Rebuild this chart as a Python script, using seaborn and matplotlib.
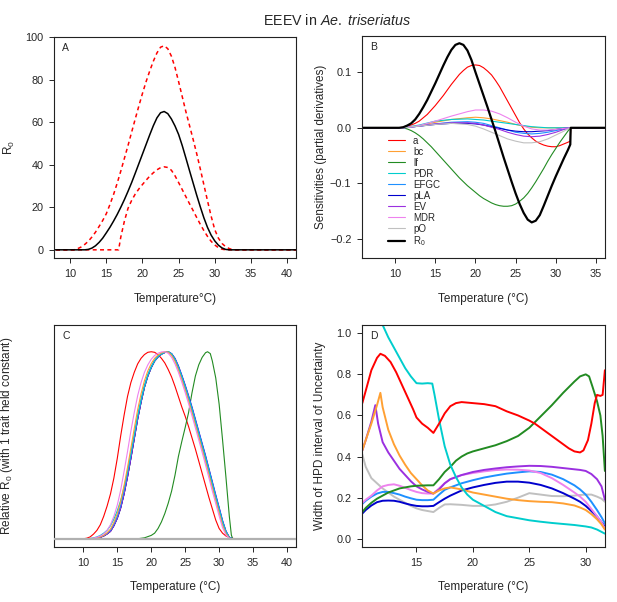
import numpy as np
import pandas as pd
import seaborn as sns
import matplotlib
matplotlib.use("Agg")
import matplotlib.pyplot as plt

# ---------------- panel A: R0 with 95% bounds ----------------
tA_mean = [5, 12, 12.5, 13, 13.5, 14, 14.5, 15, 15.5, 16, 16.5, 17, 17.5, 18, 18.5, 19, 19.5, 20, 20.5, 21, 21.5, 22, 22.5,
           23, 23.5, 24, 24.5, 25, 25.5, 26, 26.5, 27, 27.5, 28, 28.5, 29, 29.5, 30, 30.5, 31, 31.5, 32, 45]
r0_mean = [0, 0, 0.2, 0.8, 1.9, 3.5, 5.5, 8, 10.6, 13.5, 16.6, 20, 23.6, 27.5, 31.6, 36, 40.5, 45, 49.5, 54, 58.3, 62, 64.4,
           65, 64, 61.5, 58.2, 54.2, 49, 43.2, 37.3, 31.5, 25.7, 20.2, 15, 10.5, 6.9, 4.2, 2.2, 0.9, 0.2, 0, 0]
tA_upper = [5, 10.5, 11, 11.5, 12, 12.5, 13, 13.5, 14, 14.5, 15, 15.5, 16, 16.5, 17, 17.5, 18, 18.5, 19, 19.5, 20, 20.5, 21,
            21.5, 22, 22.5, 23, 23.5, 24, 24.5, 25, 25.5, 26, 26.5, 27, 27.5, 28, 28.5, 29, 29.5, 30, 30.5, 31, 31.5, 32, 32.5, 45]
r0_upper = [0, 0, 0.5, 1.3, 2.5, 4, 6, 8.3, 11, 13.8, 17, 21.3, 26, 31.3, 37, 43, 49, 55.3, 61.5, 67.6, 73.5, 79, 84,
            88.6, 92.5, 95.2, 95.9, 94.5, 91, 85.7, 79, 72, 65, 58.5, 52, 45.2, 38, 30.5, 23, 15.8, 9.5, 5.5, 3, 1.5, 0.6, 0, 0]
tA_lower = [5, 16.7, 17, 17.5, 18, 18.5, 19, 19.5, 20, 20.5, 21, 21.5, 22, 22.5, 23, 23.5, 24, 24.5, 25, 25.5, 26, 26.5, 27,
            27.5, 28, 28.5, 29, 29.5, 30, 30.5, 31, 31.5, 45]
r0_lower = [0, 0, 6, 13.5, 19.5, 23.2, 26.2, 28.6, 30.7, 32.7, 34.6, 36.2, 37.6, 38.6, 39, 38.7, 37.4, 34.8, 31.6, 28.3, 25,
            21.7, 18.5, 15.2, 12, 9, 6.3, 4, 2.3, 1, 0.3, 0, 0]

# ---------------- panel B: sensitivities ----------------
traits = ["a", "bc", "lf", "PDR", "EFGC", "pLA", "EV", "MDR", "pO", "R0"]
trait_colors = ["#FF0000", "#FFA033", "#228B22", "#00CDCD", "#1E90FF", "#0000CD",
                "#9B30E0", "#EE82EE", "#C0C0C0", "#000000"]
tB_small = [5, 11, 13, 15, 17, 19, 20, 21, 22, 23, 24, 25, 26, 27, 28, 29, 30, 31, 31.8, 40]
sens_bc = [0, 0, 0.004, 0.01, 0.015, 0.018, 0.019, 0.018, 0.016, 0.013, 0.01, 0.006, 0.003, 0.001, 0, 0, 0, 0, 0, 0]
sens_pdr = [0, 0, 0.005, 0.012, 0.015, 0.016, 0.015, 0.014, 0.012, 0.01, 0.008, 0.006, 0.004, 0.002, 0.001, 0, 0, 0, 0, 0]
sens_pla = [0, 0, 0.003, 0.006, 0.008, 0.008, 0.007, 0.005, 0.002, -0.001, -0.004, -0.006, -0.007, -0.007, -0.006, -0.005, -0.003, -0.001, 0, 0]
sens_efgc = [0, 0, 0.003, 0.007, 0.01, 0.011, 0.01, 0.008, 0.004, 0.0, -0.004, -0.008, -0.01, -0.011, -0.01, -0.008, -0.005, -0.002, 0, 0]
sens_ev = [0, 0, 0.003, 0.007, 0.009, 0.009, 0.008, 0.005, 0.001, -0.003, -0.008, -0.012, -0.015, -0.016, -0.015, -0.012, -0.008, -0.003, 0, 0]
sens_mdr = [0, 0, 0.004, 0.012, 0.021, 0.029, 0.032, 0.032, 0.03, 0.025, 0.018, 0.01, 0.003, -0.002, -0.004, -0.004, -0.003, -0.001, 0, 0]
sens_po = [0, 0, 0.003, 0.006, 0.008, 0.006, 0.003, -0.002, -0.008, -0.014, -0.02, -0.024, -0.027, -0.027, -0.025, -0.02, -0.013, -0.006, 0, 0]
tB = [5, 10.5, 11, 11.5, 12, 12.5, 13, 13.5, 14, 14.5, 15, 15.5, 16, 16.5, 17, 17.5, 18, 18.5, 19, 19.5, 20, 20.5, 21, 21.5,
      22, 22.5, 23, 23.5, 24, 24.5, 25, 25.5, 26, 26.5, 27, 27.5, 28, 28.5, 29, 29.5, 30, 30.5, 31, 31.5, 31.8, 31.85, 40]
sens_a = [0, 0, 0.001, 0.003, 0.005, 0.008, 0.012, 0.018, 0.024, 0.032, 0.04, 0.049, 0.058, 0.068, 0.078, 0.087, 0.096, 0.103,
          0.109, 0.112, 0.113, 0.112, 0.108, 0.102, 0.095, 0.085, 0.074, 0.061, 0.048, 0.035, 0.022, 0.009, -0.002, -0.011,
          -0.018, -0.024, -0.028, -0.031, -0.033, -0.034, -0.034, -0.032, -0.029, -0.026, -0.024, 0, 0]
sens_lf = [0, 0, 0, -0.002, -0.005, -0.009, -0.014, -0.02, -0.027, -0.034, -0.042, -0.05, -0.058, -0.066, -0.074, -0.082, -0.09,
           -0.097, -0.104, -0.11, -0.116, -0.122, -0.127, -0.131, -0.135, -0.138, -0.14, -0.141, -0.141, -0.14, -0.137, -0.132,
           -0.126, -0.118, -0.108, -0.097, -0.085, -0.073, -0.06, -0.048, -0.037, -0.026, -0.016, -0.006, 0, 0, 0]
sens_r0 = [0, 0, 0.001, 0.004, 0.008, 0.015, 0.025, 0.037, 0.05, 0.065, 0.08, 0.096, 0.112, 0.127, 0.14, 0.149, 0.152, 0.149,
           0.139, 0.122, 0.1, 0.079, 0.058, 0.037, 0.015, -0.007, -0.03, -0.053, -0.075, -0.097, -0.118, -0.137, -0.153, -0.165,
           -0.17, -0.167, -0.157, -0.14, -0.122, -0.104, -0.087, -0.071, -0.055, -0.04, -0.03, 0, 0]

# ---------------- panel C: relative R0 with one trait held constant ----------------
tC = [11, 11.5, 12, 12.5, 13, 13.5, 14, 14.5, 15, 15.5, 16, 16.5, 17, 17.5, 18, 18.5, 19, 19.5, 20, 20.5, 21, 21.5,
      22, 22.5, 23, 23.5, 24, 24.5, 25, 25.5, 26, 26.5, 27, 27.5, 28, 28.5, 29, 29.5, 30, 30.5, 31, 31.5, 32]
rel_r0 = [0, 0.001, 0.004, 0.008, 0.015, 0.026, 0.04, 0.07, 0.11, 0.165, 0.24, 0.33, 0.43, 0.535, 0.64, 0.73, 0.81, 0.87,
          0.915, 0.95, 0.972, 0.987, 0.996, 1.0, 0.988, 0.958, 0.915, 0.865, 0.81, 0.752, 0.69, 0.625, 0.56, 0.495, 0.43,
          0.36, 0.29, 0.22, 0.155, 0.088, 0.036, 0.006, 0]
rel_pla = [0, 0.001, 0.004, 0.008, 0.015, 0.026, 0.04, 0.07, 0.11, 0.165, 0.24, 0.33, 0.43, 0.535, 0.64, 0.73, 0.81, 0.87,
           0.915, 0.95, 0.972, 0.987, 0.996, 1.0, 0.99, 0.965, 0.925, 0.875, 0.822, 0.765, 0.705, 0.64, 0.575, 0.51, 0.445,
           0.375, 0.305, 0.235, 0.168, 0.098, 0.042, 0.008, 0]
rel_ev = [0, 0.001, 0.004, 0.008, 0.015, 0.026, 0.04, 0.07, 0.11, 0.165, 0.24, 0.33, 0.43, 0.535, 0.64, 0.73, 0.81, 0.87,
          0.915, 0.95, 0.972, 0.987, 0.996, 1.0, 0.989, 0.962, 0.92, 0.87, 0.816, 0.758, 0.697, 0.632, 0.567, 0.502, 0.437,
          0.367, 0.297, 0.227, 0.161, 0.093, 0.039, 0.007, 0]
rel_efgc = [0, 0.001, 0.005, 0.01, 0.018, 0.03, 0.046, 0.078, 0.12, 0.18, 0.258, 0.35, 0.452, 0.556, 0.658, 0.745, 0.822,
            0.879, 0.922, 0.955, 0.976, 0.99, 0.998, 1.0, 0.988, 0.96, 0.918, 0.87, 0.816, 0.758, 0.698, 0.633, 0.568, 0.503,
            0.438, 0.368, 0.298, 0.228, 0.162, 0.093, 0.039, 0.007, 0]
rel_pdr = [0.002, 0.005, 0.01, 0.018, 0.03, 0.045, 0.07, 0.105, 0.15, 0.205, 0.275, 0.36, 0.455, 0.555, 0.655, 0.74, 0.815,
           0.875, 0.918, 0.952, 0.974, 0.988, 0.997, 1.0, 0.988, 0.958, 0.915, 0.865, 0.81, 0.752, 0.69, 0.625, 0.56, 0.495,
           0.43, 0.36, 0.29, 0.22, 0.155, 0.088, 0.036, 0.006, 0]
rel_bc = [0, 0.002, 0.005, 0.01, 0.018, 0.032, 0.052, 0.088, 0.135, 0.2, 0.285, 0.38, 0.485, 0.59, 0.69, 0.775, 0.845, 0.898,
          0.937, 0.965, 0.983, 0.994, 1.0, 0.998, 0.98, 0.948, 0.902, 0.85, 0.795, 0.736, 0.673, 0.608, 0.543, 0.478, 0.41,
          0.342, 0.272, 0.203, 0.138, 0.072, 0.027, 0.003, 0]
rel_mdr = [0.001, 0.004, 0.008, 0.015, 0.026, 0.045, 0.075, 0.12, 0.18, 0.26, 0.36, 0.465, 0.575, 0.675, 0.765, 0.835, 0.89,
           0.93, 0.96, 0.98, 0.992, 0.999, 1.0, 0.992, 0.97, 0.935, 0.89, 0.838, 0.782, 0.722, 0.658, 0.593, 0.528, 0.462,
           0.395, 0.325, 0.255, 0.188, 0.122, 0.06, 0.02, 0.002, 0]
rel_a_t = [10, 10.5, 11, 11.5, 12, 12.5, 13, 13.5, 14, 14.5, 15, 15.5, 16, 16.5, 17, 17.5, 18, 18.5, 19, 19.5, 20, 20.5, 21,
           21.5, 22, 22.5, 23, 23.5, 24, 24.5, 25, 25.5, 26, 26.5, 27, 27.5, 28, 28.5, 29, 29.5, 30, 30.5, 31, 31.5, 32, 32.5]
rel_a = [0, 0.003, 0.01, 0.025, 0.045, 0.075, 0.12, 0.175, 0.24, 0.325, 0.43, 0.55, 0.66, 0.76, 0.835, 0.89, 0.935, 0.965,
         0.985, 0.997, 1.0, 0.997, 0.985, 0.965, 0.94, 0.905, 0.865, 0.815, 0.76, 0.705, 0.655, 0.6, 0.54, 0.48, 0.415, 0.35,
         0.285, 0.22, 0.16, 0.1, 0.055, 0.03, 0.015, 0.007, 0.002, 0]
rel_lf_t = [18, 19, 20, 20.5, 21, 21.5, 22, 22.5, 23, 23.5, 24, 24.5, 25, 25.5, 26, 26.5, 27, 27.5, 28, 28.3, 28.7, 29, 29.5,
            30, 30.5, 31, 31.5, 31.8, 32]
rel_lf = [0, 0.005, 0.018, 0.03, 0.055, 0.09, 0.135, 0.19, 0.255, 0.34, 0.44, 0.52, 0.595, 0.675, 0.78, 0.87, 0.93, 0.97,
          0.995, 1.0, 0.99, 0.95, 0.86, 0.72, 0.53, 0.33, 0.12, 0.02, 0]

# ---------------- panel D: width of HPD interval ----------------
tD_a = [10.2, 10.6, 11, 11.5, 11.8, 12.2, 12.7, 13.2, 13.7, 14.2, 14.7, 15, 15.5, 16, 16.5, 17, 17.5, 18, 18.5, 19, 20, 21, 22,
        23, 24, 25, 25.5, 26, 27, 28, 28.5, 29, 29.5, 29.8, 30.2, 30.5, 30.8, 31, 31.3, 31.5, 31.7]
hpd_a = [0.66, 0.74, 0.82, 0.88, 0.9, 0.89, 0.86, 0.81, 0.75, 0.69, 0.63, 0.59, 0.56, 0.54, 0.515, 0.56, 0.61, 0.645, 0.66,
         0.665, 0.66, 0.655, 0.645, 0.62, 0.6, 0.575, 0.56, 0.54, 0.5, 0.46, 0.44, 0.425, 0.42, 0.43, 0.48, 0.56, 0.66, 0.7,
         0.695, 0.7, 0.82]
tD_pdr = [11.8, 12, 12.5, 13, 13.5, 14, 14.5, 15, 15.5, 16, 16.4, 16.6, 17, 17.5, 18, 18.5, 19, 19.5, 20, 21, 22, 23, 24, 25,
          26, 27, 28, 29, 30, 30.5, 31, 31.7]
hpd_pdr = [1.08, 1.04, 0.98, 0.93, 0.88, 0.83, 0.79, 0.757, 0.755, 0.757, 0.755, 0.7, 0.58, 0.45, 0.36, 0.3, 0.25, 0.215,
           0.19, 0.16, 0.13, 0.11, 0.1, 0.09, 0.083, 0.077, 0.072, 0.067, 0.06, 0.055, 0.045, 0.025]
tD_lf = [10.2, 10.5, 11, 11.5, 12, 12.5, 13, 13.5, 14, 14.5, 15, 16, 16.5, 17, 17.5, 18, 18.5, 19, 19.5, 20, 21, 22, 23, 24,
         25, 26, 27, 28, 29, 29.5, 30, 30.3, 30.6, 31, 31.3, 31.5, 31.7]
hpd_lf = [0.13, 0.15, 0.175, 0.195, 0.21, 0.225, 0.235, 0.245, 0.25, 0.255, 0.258, 0.26, 0.26, 0.29, 0.325, 0.35, 0.38, 0.4,
          0.415, 0.425, 0.44, 0.455, 0.475, 0.5, 0.54, 0.595, 0.65, 0.71, 0.765, 0.79, 0.8, 0.79, 0.74, 0.67, 0.6, 0.5, 0.33]
tD = [10.2, 10.5, 11, 11.5, 12, 12.5, 13, 13.5, 14, 14.5, 15, 15.5, 16, 16.5, 17, 17.5, 18, 19, 20, 21, 22, 23, 24, 25, 26,
      27, 28, 29, 29.5, 30, 30.5, 31, 31.4, 31.7]
hpd_mdr = [0.175, 0.19, 0.21, 0.235, 0.255, 0.262, 0.265, 0.258, 0.248, 0.237, 0.228, 0.222, 0.22, 0.22, 0.245, 0.27, 0.29,
           0.31, 0.32, 0.328, 0.334, 0.337, 0.336, 0.332, 0.32, 0.295, 0.262, 0.225, 0.205, 0.18, 0.145, 0.11, 0.08, 0.05]
hpd_efgc = [0.17, 0.185, 0.205, 0.22, 0.228, 0.228, 0.222, 0.215, 0.205, 0.197, 0.19, 0.188, 0.188, 0.19, 0.215, 0.238, 0.25,
            0.27, 0.285, 0.298, 0.308, 0.317, 0.323, 0.328, 0.325, 0.312, 0.29, 0.26, 0.24, 0.215, 0.18, 0.14, 0.105, 0.075]
hpd_pla = [0.123, 0.14, 0.162, 0.178, 0.185, 0.186, 0.185, 0.18, 0.172, 0.165, 0.16, 0.158, 0.158, 0.16, 0.178, 0.195, 0.21,
           0.235, 0.25, 0.262, 0.272, 0.278, 0.278, 0.273, 0.262, 0.245, 0.222, 0.195, 0.18, 0.16, 0.135, 0.108, 0.08, 0.06]
hpd_po = [0.41, 0.35, 0.295, 0.27, 0.245, 0.225, 0.205, 0.19, 0.175, 0.16, 0.148, 0.14, 0.135, 0.13, 0.15, 0.167, 0.168,
          0.165, 0.16, 0.16, 0.167, 0.18, 0.2, 0.222, 0.215, 0.208, 0.207, 0.21, 0.213, 0.215, 0.215, 0.205, 0.195, 0.18]
tD_bc = [10.2, 10.5, 11, 11.5, 11.8, 12, 12.5, 13, 13.5, 14, 14.5, 15, 15.5, 16, 16.5, 17, 17.5, 18, 19, 20, 21, 22, 23, 24,
         25, 26, 27, 28, 29, 29.5, 30, 30.5, 31, 31.4, 31.7]
hpd_bc = [0.43, 0.48, 0.56, 0.65, 0.71, 0.64, 0.53, 0.46, 0.405, 0.36, 0.32, 0.29, 0.26, 0.235, 0.22, 0.235, 0.245, 0.25,
          0.24, 0.225, 0.215, 0.205, 0.195, 0.188, 0.183, 0.18, 0.178, 0.172, 0.162, 0.152, 0.14, 0.12, 0.095, 0.07, 0.045]
tD_ev = [10.2, 10.5, 11, 11.35, 11.6, 12, 12.5, 13, 13.5, 14, 14.5, 15, 15.5, 16, 16.5, 17, 17.5, 18, 19, 20, 21, 22, 23, 24,
         25, 26, 27, 28, 29, 29.5, 30, 30.5, 31, 31.4, 31.7]
hpd_ev = [0.43, 0.48, 0.57, 0.65, 0.56, 0.47, 0.42, 0.38, 0.34, 0.31, 0.28, 0.255, 0.24, 0.228, 0.22, 0.24, 0.27, 0.29, 0.31,
          0.325, 0.335, 0.342, 0.348, 0.352, 0.355, 0.354, 0.35, 0.344, 0.338, 0.335, 0.33, 0.315, 0.29, 0.255, 0.19]

col = dict(zip(traits, trait_colors))

sns.set_style("ticks")
plt.rcParams["font.family"] = ["Liberation Sans", "DejaVu Sans"]
plt.rcParams["mathtext.fontset"] = "custom"
plt.rcParams["mathtext.rm"] = "Liberation Sans"
plt.rcParams["mathtext.it"] = "Liberation Sans:italic"
plt.rcParams["axes.edgecolor"] = "#222222"
plt.rcParams["axes.linewidth"] = 0.8
plt.rcParams["xtick.major.size"] = 3.6
plt.rcParams["ytick.major.size"] = 3.6
plt.rcParams["xtick.major.width"] = 0.7
plt.rcParams["ytick.major.width"] = 0.7
plt.rcParams["xtick.labelsize"] = 7.8
plt.rcParams["ytick.labelsize"] = 7.8
plt.rcParams["xtick.major.pad"] = 4.5
plt.rcParams["ytick.major.pad"] = 4

W, H = 617, 602
fig = plt.figure(figsize=(W / 100, H / 100), dpi=100)


def px_axes(l, t, r, b):
    return fig.add_axes([l / W, 1 - b / H, (r - l) / W, (b - t) / H])


axA = px_axes(54, 37, 296, 258)
axB = px_axes(362, 36, 605, 258)
axC = px_axes(54, 325, 296, 547)
axD = px_axes(362, 325, 605, 547)


def line(ax, x, y, color, lw, **kw):
    sns.lineplot(x=x, y=y, color=color, linewidth=lw, ax=ax, estimator=None, sort=False, **kw)


# A
line(axA, tA_upper, r0_upper, "#FF0000", 1.1)
line(axA, tA_lower, r0_lower, "#FF0000", 1.1)
for l in axA.lines:
    l.set_dashes((2.6, 2.2))
line(axA, tA_mean, r0_mean, "black", 1.1)
axA.set_xlim(7.76, 41.24)
axA.set_ylim(-3.84, 99.84)
axA.set_xticks([10, 15, 20, 25, 30, 35, 40])
axA.set_yticks([0, 20, 40, 60, 80, 100])
axA.set_xlabel("Temperature°C)", fontsize=8.5)
axA.set_ylabel("R$_0$", fontsize=8.5)

# B
sens = {"a": (tB, sens_a), "bc": (tB_small, sens_bc), "lf": (tB, sens_lf), "PDR": (tB_small, sens_pdr),
        "EFGC": (tB_small, sens_efgc), "pLA": (tB_small, sens_pla), "EV": (tB_small, sens_ev),
        "MDR": (tB_small, sens_mdr), "pO": (tB_small, sens_po), "R0": (tB, sens_r0)}
for name in traits:
    x, y = sens[name]
    lab = "R$_0$" if name == "R0" else name
    line(axB, x, y, col[name], 1.6 if name == "R0" else 0.8, label=lab)
axB.set_xlim(5.88, 36.12)
axB.set_ylim(-0.234, 0.165)
axB.set_xticks([10, 15, 20, 25, 30, 35])
axB.set_yticks([-0.2, -0.1, 0.0, 0.1])
axB.set_yticklabels(["−0.2", "−0.1", "0.0", "0.1"])
axB.set_xlabel("Temperature (°C)", fontsize=8.5)
axB.set_ylabel("Sensitivities (partial derivatives)", fontsize=8.5)
axB.legend(loc="upper left", bbox_to_anchor=(0.108, 0.55), frameon=False, fontsize=7,
           handlelength=1.75, handletextpad=0.8, labelspacing=0.1, borderpad=0, borderaxespad=0)

# C
rel = [("a", rel_a_t, rel_a), ("lf", rel_lf_t, rel_lf), ("R0", tC, rel_r0), ("pLA", tC, rel_pla),
       ("EV", tC, rel_ev), ("EFGC", tC, rel_efgc), ("PDR", tC, rel_pdr), ("bc", tC, rel_bc), ("MDR", tC, rel_mdr)]
for name, x, y in rel:
    line(axC, x, y, col[name], 0.8)
axC.axhline(0, color="#B0B0B0", linewidth=1.6, zorder=5)
axC.set_xlim(5.68, 41.32)
axC.set_ylim(-0.044, 1.143)
axC.set_xticks([10, 15, 20, 25, 30, 35, 40])
axC.set_yticks([])
axC.set_xlabel("Temperature (°C)", fontsize=8.5)
axC.set_ylabel("Relative R$_0$ (with 1 trait held constant)", fontsize=8.5)

# D
hpd = [("pO", tD, hpd_po), ("pLA", tD, hpd_pla), ("EFGC", tD, hpd_efgc), ("MDR", tD, hpd_mdr),
       ("EV", tD_ev, hpd_ev), ("bc", tD_bc, hpd_bc), ("lf", tD_lf, hpd_lf), ("PDR", tD_pdr, hpd_pdr),
       ("a", tD_a, hpd_a)]
for name, x, y in hpd:
    line(axD, x, y, col[name], 1.4)
axD.set_xlim(10.17, 31.71)
axD.set_ylim(-0.04, 1.04)
axD.set_xticks([15, 20, 25, 30])
axD.set_yticks([0, 0.2, 0.4, 0.6, 0.8, 1.0])
axD.set_yticklabels(["0.0", "0.2", "0.4", "0.6", "0.8", "1.0"])
axD.set_xlabel("Temperature (°C)", fontsize=8.5)
axD.set_ylabel("Width of HPD interval of Uncertainty", fontsize=8.5)

for ax, letter, ylx, xly in [(axA, "A", -0.153, -0.158), (axB, "B", -0.144, -0.158),
                             (axC, "C", -0.161, -0.153), (axD, "D", -0.148, -0.153)]:
    ax.text(0.035, 0.95, letter, transform=ax.transAxes, fontsize=7.5, va="center", ha="left")
    ax.xaxis.set_label_coords(0.5, xly)
    ax.yaxis.set_label_coords(ylx, 0.5)
    for s in ax.spines.values():
        s.set_visible(True)

fig.text(0.547, 0.966, "EEEV in $\\mathit{Ae.\\ triseriatus}$", ha="center", va="center", fontsize=10.3)

fig.savefig("out.png", dpi=100)
